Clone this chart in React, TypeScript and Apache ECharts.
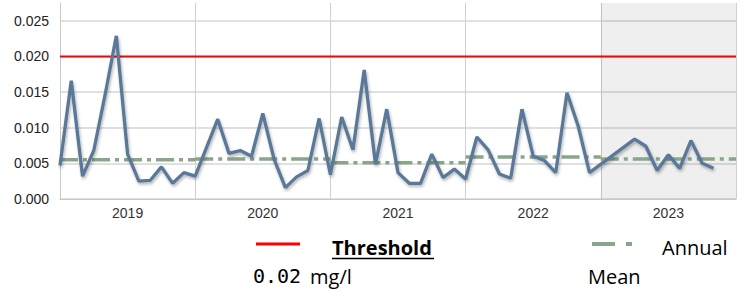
import React, { useEffect, useRef } from 'react';
import * as echarts from 'echarts';

const sampleMonths = [
  '2019-01', '2019-02', '2019-03', '2019-04', '2019-05', '2019-06', '2019-07', '2019-08', '2019-09', '2019-10', '2019-11', '2019-12',
  '2020-01', '2020-03', '2020-04', '2020-05', '2020-06', '2020-07', '2020-08', '2020-09', '2020-10', '2020-11', '2020-12',
  '2021-01', '2021-02', '2021-03', '2021-04', '2021-05', '2021-06', '2021-07', '2021-08', '2021-09', '2021-10', '2021-11', '2021-12',
  '2022-01', '2022-02', '2022-03', '2022-04', '2022-05', '2022-06', '2022-07', '2022-08', '2022-09', '2022-10', '2022-11', '2022-12',
  '2023-04', '2023-05', '2023-06', '2023-07', '2023-08', '2023-09', '2023-10', '2023-11',
];
const concentrations = [
  0.0047, 0.0166, 0.0032, 0.0068, 0.0146, 0.0229, 0.0063, 0.0025, 0.0026, 0.0045, 0.0022, 0.0037,
  0.0032, 0.0112, 0.0064, 0.0068, 0.006, 0.012, 0.0056, 0.0016, 0.0031, 0.004, 0.0113,
  0.0034, 0.0115, 0.0069, 0.0181, 0.0049, 0.0126, 0.0037, 0.0022, 0.0022, 0.0063, 0.003, 0.0042,
  0.0028, 0.0087, 0.0069, 0.0035, 0.0029, 0.0126, 0.006, 0.0054, 0.0037, 0.0149, 0.0102, 0.0037,
  0.0084, 0.0074, 0.004, 0.0062, 0.0043, 0.0082, 0.005, 0.0043,
];
const years = [2019, 2020, 2021, 2022, 2023];
const annualMeans = [0.0055, 0.0056, 0.0051, 0.0059, 0.0056];
const thresholdValue = 0.02;
const shadedYear = 2023;

const toDecimalYear = (s: string) => {
  const [y, m] = s.split('-').map(Number);
  return y + (m - 1) / 12;
};

export default function App() {
  const ref = useRef<HTMLDivElement>(null);
  useEffect(() => {
    if (!ref.current) return;
    const chart = echarts.init(ref.current, undefined, { renderer: 'svg' });
    const firstYear = years[0];
    const lastYear = years[years.length - 1] + 1;
    const mainData = sampleMonths.map((d, i) => [toDecimalYear(d), concentrations[i]]);
    const meanData: any[] = [];
    years.forEach((y, i) => {
      meanData.push([y, annualMeans[i]]);
      meanData.push([y + 1, annualMeans[i]]);
      if (i < years.length - 1) meanData.push([y + 1, null]);
    });
    const sans = '"Open Sans", sans-serif';
    chart.setOption({
      animation: false,
      grid: { left: 60, right: 8, top: 3, bottom: 96 },
      xAxis: {
        type: 'value',
        min: firstYear,
        max: lastYear,
        interval: 0.5,
        axisLine: { show: true, lineStyle: { color: '#c8c8c8', width: 1 } },
        axisTick: { show: false },
        axisLabel: {
          formatter: (v: number) => (Math.abs((v % 1) - 0.5) < 1e-6 ? String(Math.floor(v)) : ''),
          color: '#333',
          fontSize: 14,
          fontFamily: '"Liberation Sans", Arial, sans-serif',
          margin: 7,
        },
        splitLine: { show: true, lineStyle: { color: ['#d0d0d0', 'transparent'], width: 1 } },
      },
      yAxis: {
        type: 'value',
        min: 0,
        max: 0.0275,
        interval: 0.005,
        axisLine: { show: true, lineStyle: { color: '#c8c8c8', width: 1 } },
        axisTick: { show: false },
        axisLabel: {
          formatter: (v: number) => v.toFixed(3),
          showMaxLabel: false,
          color: '#222',
          fontSize: 14,
          fontFamily: '"Liberation Sans", Arial, sans-serif',
          margin: 11,
        },
        splitLine: { show: true, showMaxLine: false, lineStyle: { color: '#d6d6d6', width: 1.5 } },
      },
      series: [
        {
          type: 'line',
          name: 'Threshold',
          data: [[firstYear, thresholdValue], [lastYear, thresholdValue]],
          symbol: 'none',
          silent: true,
          lineStyle: { color: '#ff0000', width: 2 },
          markArea: {
            silent: true,
            itemStyle: { color: 'rgba(0,0,0,0.063)' },
            data: [[{ xAxis: shadedYear }, { xAxis: shadedYear + 1 }]],
          },
        },
        {
          type: 'line',
          name: 'Annual Mean',
          data: meanData,
          symbol: 'none',
          silent: true,
          connectNulls: false,
          lineStyle: { color: '#8aa68a', width: 3.5, type: [18, 5, 4, 5] },
        },
        {
          type: 'line',
          name: 'Concentration',
          data: mainData,
          symbol: 'none',
          silent: true,
          lineStyle: {
            color: '#5a7898',
            width: 3.3,
            shadowColor: 'rgba(0,0,0,0.3)',
            shadowBlur: 3,
            shadowOffsetX: 1,
            shadowOffsetY: 2,
          },
        },
      ],
      graphic: [
        { type: 'line', shape: { x1: 256, y1: 244, x2: 300, y2: 244 }, style: { stroke: '#ff0000', lineWidth: 3 } },
        {
          type: 'text', x: 332, y: 247.5,
          style: { text: 'Threshold', font: `bold 20px ${sans}`, fill: '#000', verticalAlign: 'middle' },
        },
        { type: 'line', shape: { x1: 332, y1: 258.5, x2: 434, y2: 258.5 }, style: { stroke: '#000', lineWidth: 1.5 } },
        {
          type: 'text', x: 253, y: 276,
          style: { text: '0.02', font: '20px "DejaVu Sans Mono", monospace', fill: '#000', verticalAlign: 'middle' },
        },
        {
          type: 'text', x: 310, y: 276,
          style: { text: 'mg/l', font: `20px ${sans}`, fill: '#000', verticalAlign: 'middle' },
        },
        { type: 'line', shape: { x1: 592, y1: 244, x2: 615, y2: 244 }, style: { stroke: '#8aa68a', lineWidth: 4 } },
        { type: 'line', shape: { x1: 626, y1: 244, x2: 632, y2: 244 }, style: { stroke: '#8aa68a', lineWidth: 4 } },
        {
          type: 'text', x: 662, y: 247.5,
          style: { text: 'Annual', font: `20px ${sans}`, fill: '#000', verticalAlign: 'middle' },
        },
        {
          type: 'text', x: 588, y: 276,
          style: { text: 'Mean', font: `20px ${sans}`, fill: '#000', verticalAlign: 'middle' },
        },
      ],
    });
    return () => chart.dispose();
  }, []);
  return <div ref={ref} style={{ width: 744, height: 295, position: 'absolute', left: 0, top: 0 }} />;
}
